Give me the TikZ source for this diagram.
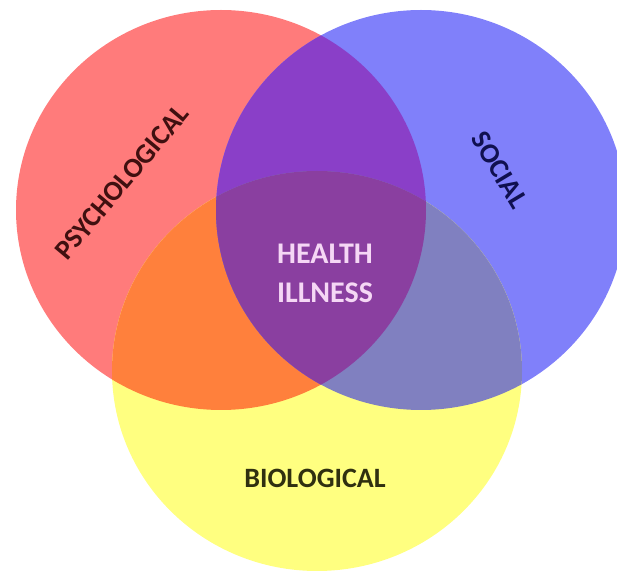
\documentclass[tikz,border=0pt]{standalone}
\usepackage{fontspec}
\setmainfont{Carlito}
\usepackage{xcolor}
\usepackage{tikz}
\usetikzlibrary{positioning}

\definecolor{psyred}{RGB}{255,123,123}
\definecolor{socblue}{RGB}{128,128,250}
\definecolor{bioyellow}{RGB}{255,255,128}
\definecolor{psybio}{RGB}{255,128,60}
\definecolor{psysoc}{RGB}{138,63,200}
\definecolor{socbio}{RGB}{128,128,192}
\definecolor{allthree}{RGB}{138,63,160}

\begin{document}
\begin{tikzpicture}[x=0.5pt, y=-0.5pt,
  circletext/.style={font=\bfseries\fontsize{14}{14}\selectfont, inner sep=0pt},
  centertext/.style={font=\bfseries\fontsize{15}{15}\selectfont, inner sep=0pt, text={rgb,255:red,245;green,215;blue,245}}
  ]
  \useasboundingbox (0,0) rectangle (617,572);
  \coordinate (psy) at (221,210);
  \coordinate (soc) at (421,210);
  \coordinate (bio) at (317,371);
  \def\psyshape{(psy) ellipse [x radius=205, y radius=200]}
  \def\socshape{(soc) ellipse [x radius=205, y radius=200]}
  \def\bioshape{(bio) ellipse [x radius=205, y radius=200]}

  % the three circles
  \fill[psyred] \psyshape;
  \fill[socblue] \socshape;
  \fill[bioyellow] \bioshape;

  % overlaps
  \begin{scope}
    \clip \psyshape;
    \fill[psybio] \bioshape;
    \fill[psysoc] \socshape;
  \end{scope}
  \begin{scope}
    \clip \socshape;
    \fill[socbio] \bioshape;
  \end{scope}
  \begin{scope}
    \clip \psyshape; \clip \socshape;
    \fill[allthree] \bioshape;
  \end{scope}

  % labels
  \node[circletext, text={rgb,255:red,64;green,16;blue,16}, rotate=50] (psylabel) at (122,182) {PSYCHOLOGICAL};
  \node[circletext, text={rgb,255:red,16;green,16;blue,80}, rotate=-59] (soclabel) at (500,170) {SOCIAL};
  \node[circletext, text={rgb,255:red,48;green,48;blue,16}] (biolabel) at (315,478) {BIOLOGICAL};
  \node[centertext] (health) at (325,254) {HEALTH};
  \node[centertext, below=9pt of health] (illness) {ILLNESS};
\end{tikzpicture}
\end{document}
